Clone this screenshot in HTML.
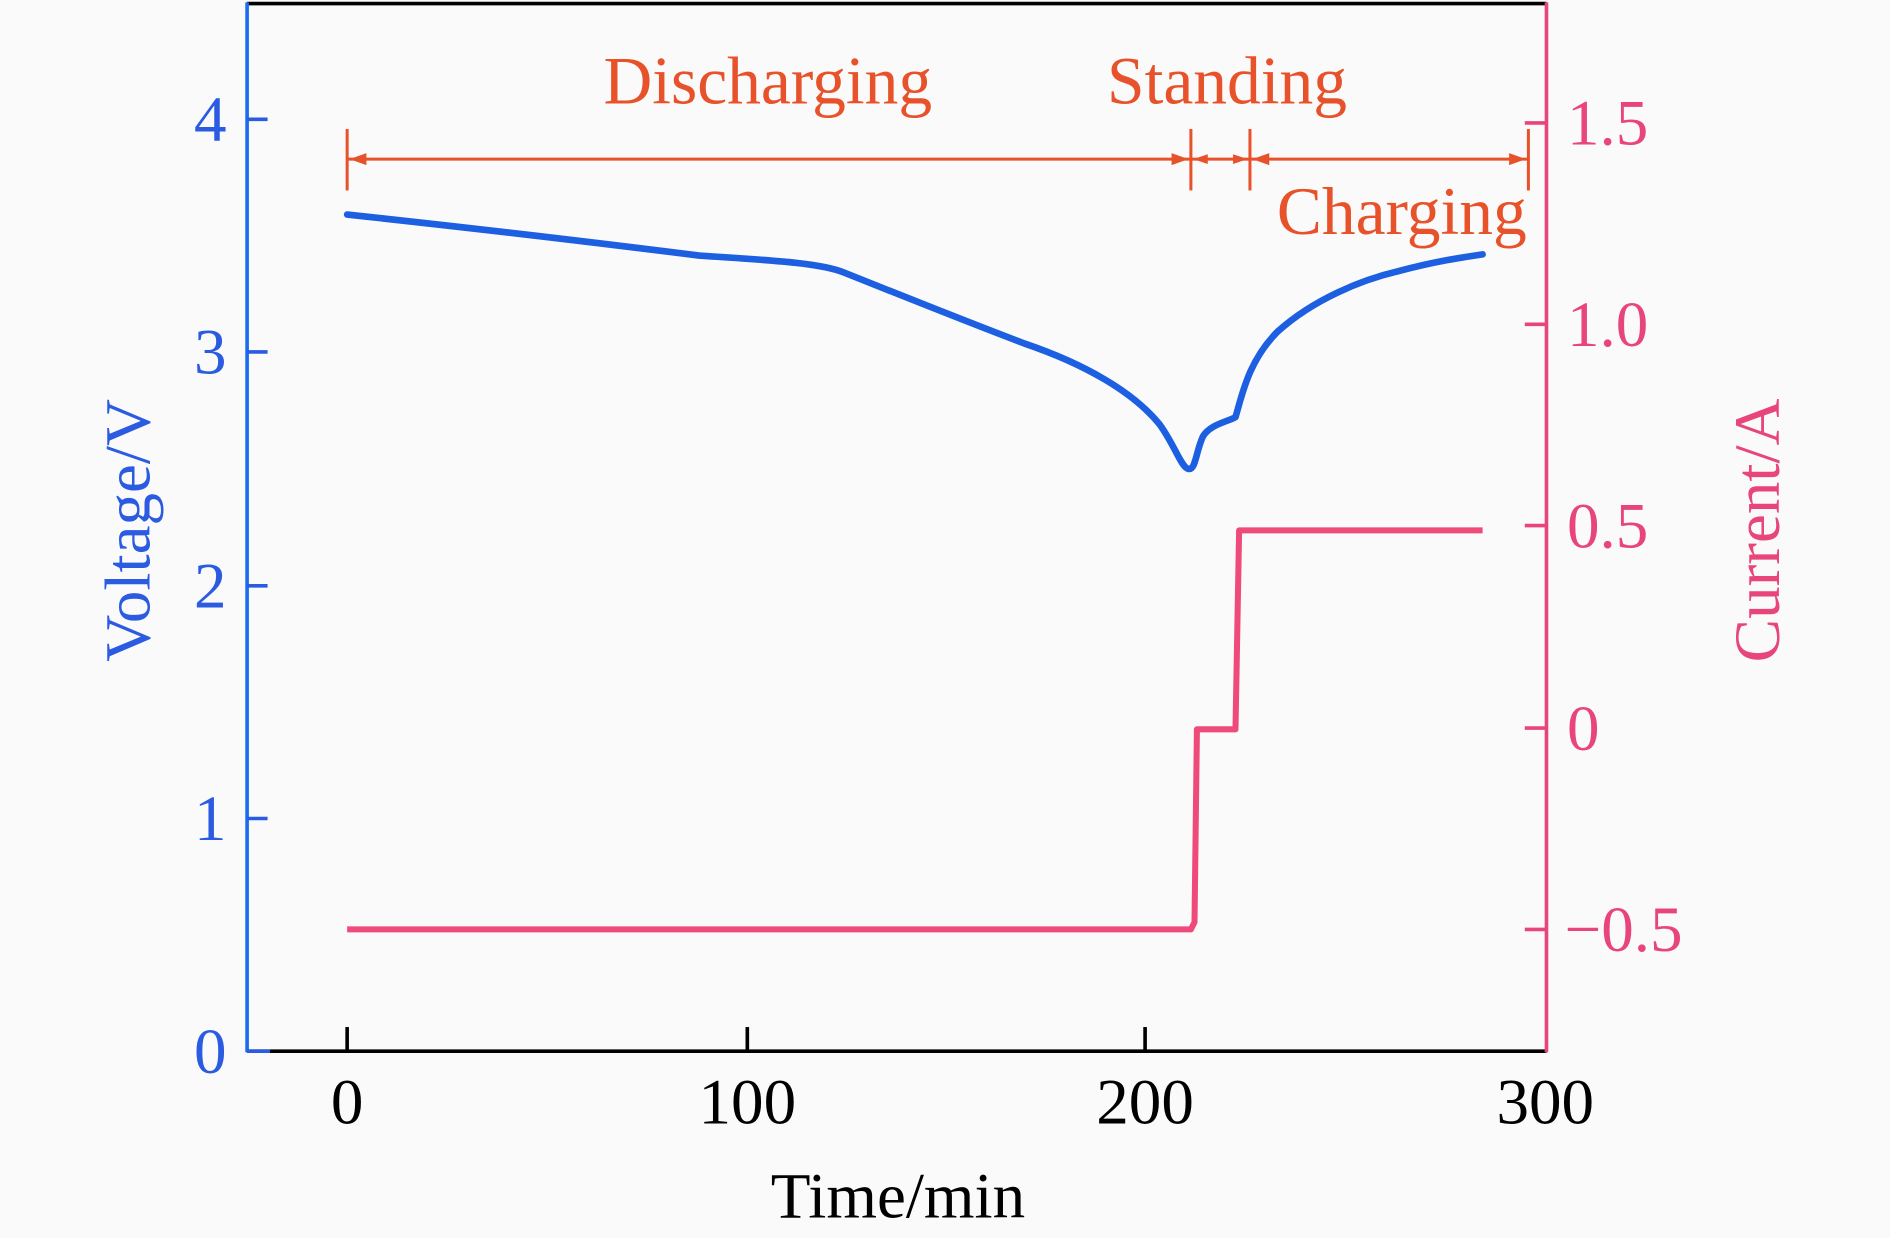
<!DOCTYPE html>
<html><head><meta charset="utf-8"><style>
html,body{margin:0;padding:0;background:#fafafa;}
svg{display:block;}
text{font-family:"Liberation Serif",serif;}
</style></head><body>
<svg width="1890" height="1238" viewBox="0 0 1568 1027" preserveAspectRatio="none" xmlns="http://www.w3.org/2000/svg">
<rect width="1568" height="1027" fill="#fafafa"/>
<line x1="205" y1="3" x2="1283" y2="3" stroke="#000" stroke-width="3"/>
<line x1="205" y1="872" x2="1283" y2="872" stroke="#000" stroke-width="3"/>
<line x1="205" y1="2" x2="205" y2="873" stroke="#1a6cf0" stroke-width="3"/>
<line x1="1283" y1="2" x2="1283" y2="873" stroke="#e8457a" stroke-width="3"/>
<g stroke="#2a5be0" stroke-width="3">
<line x1="205" y1="872" x2="224" y2="872"/><line x1="205" y1="679" x2="222" y2="679"/><line x1="205" y1="486" x2="222" y2="486"/><line x1="205" y1="292" x2="222" y2="292"/><line x1="205" y1="99" x2="222" y2="99"/>
</g>
<g fill="#2a5be0" font-size="54" text-anchor="end">
<text x="188" y="890">0</text><text x="188" y="697">1</text><text x="188" y="504">2</text><text x="188" y="310">3</text><text x="188" y="117">4</text>
</g>
<g stroke="#000" stroke-width="3">
<line x1="288" y1="872" x2="288" y2="852"/><line x1="620" y1="872" x2="620" y2="852"/><line x1="950" y1="872" x2="950" y2="852"/>
</g>
<g fill="#000" font-size="54" text-anchor="middle">
<text x="288" y="932">0</text><text x="620" y="932">100</text><text x="950" y="932">200</text><text x="1282" y="932">300</text>
</g>
<text x="745" y="1010" font-size="54" text-anchor="middle" fill="#000">Time/min</text>
<g stroke="#e8457a" stroke-width="3">
<line x1="1283" y1="102" x2="1265" y2="102"/><line x1="1283" y1="269" x2="1265" y2="269"/><line x1="1283" y1="436" x2="1265" y2="436"/><line x1="1283" y1="604" x2="1265" y2="604"/><line x1="1283" y1="771" x2="1265" y2="771"/>
</g>
<g fill="#e8457a" font-size="54">
<text x="1300" y="120">1.5</text><text x="1300" y="287">1.0</text><text x="1300" y="454">0.5</text><text x="1300" y="622">0</text><text x="1298" y="789">−0.5</text>
</g>
<text transform="translate(124,440) rotate(-90)" font-size="54" text-anchor="middle" fill="#2a5be0">Voltage/V</text>
<text transform="translate(1476,440) rotate(-90)" font-size="54" text-anchor="middle" fill="#e8457a">Current/A</text>
<g stroke="#e8522a" stroke-width="2.5" fill="none">
<line x1="288" y1="107" x2="288" y2="158"/><line x1="988" y1="107" x2="988" y2="158"/><line x1="1037" y1="107" x2="1037" y2="158"/><line x1="1268" y1="107" x2="1268" y2="158"/>
<line x1="288" y1="132" x2="1268" y2="132"/>
</g>
<g fill="#e8522a">
<polygon points="290,132 304,127 304,137"/><polygon points="986,132 972,127 972,137"/>
<polygon points="990,132 1002,128 1002,136"/><polygon points="1035,132 1023,128 1023,136"/>
<polygon points="1039,132 1053,127 1053,137"/><polygon points="1266,132 1252,127 1252,137"/>
</g>
<g fill="#e8522a" font-size="56" text-anchor="middle">
<text x="637" y="86">Discharging</text><text x="1018" y="86">Standing</text><text x="1163" y="194">Charging</text>
</g>
<path d="M288,178 C400,190 500,202 580,212 C640,216 680,218 700,226 C760,250 810,270 850,285 C900,302 940,325 962,352 C975,370 980,388 986,389 C992,390 992,375 998,362 C1004,352 1018,350 1025,346 C1030,330 1035,300 1060,275 C1090,248 1130,232 1160,225 C1190,217 1210,214 1230,211" fill="none" stroke="#1c5fe0" stroke-width="5.5" stroke-linejoin="round" stroke-linecap="round"/>
<path d="M288,771 L988,771 L991,765 L993,605 L1025,605 L1028,440 L1230,440" fill="none" stroke="#ee4a7a" stroke-width="5" stroke-linejoin="round"/>
</svg>
</body></html>
